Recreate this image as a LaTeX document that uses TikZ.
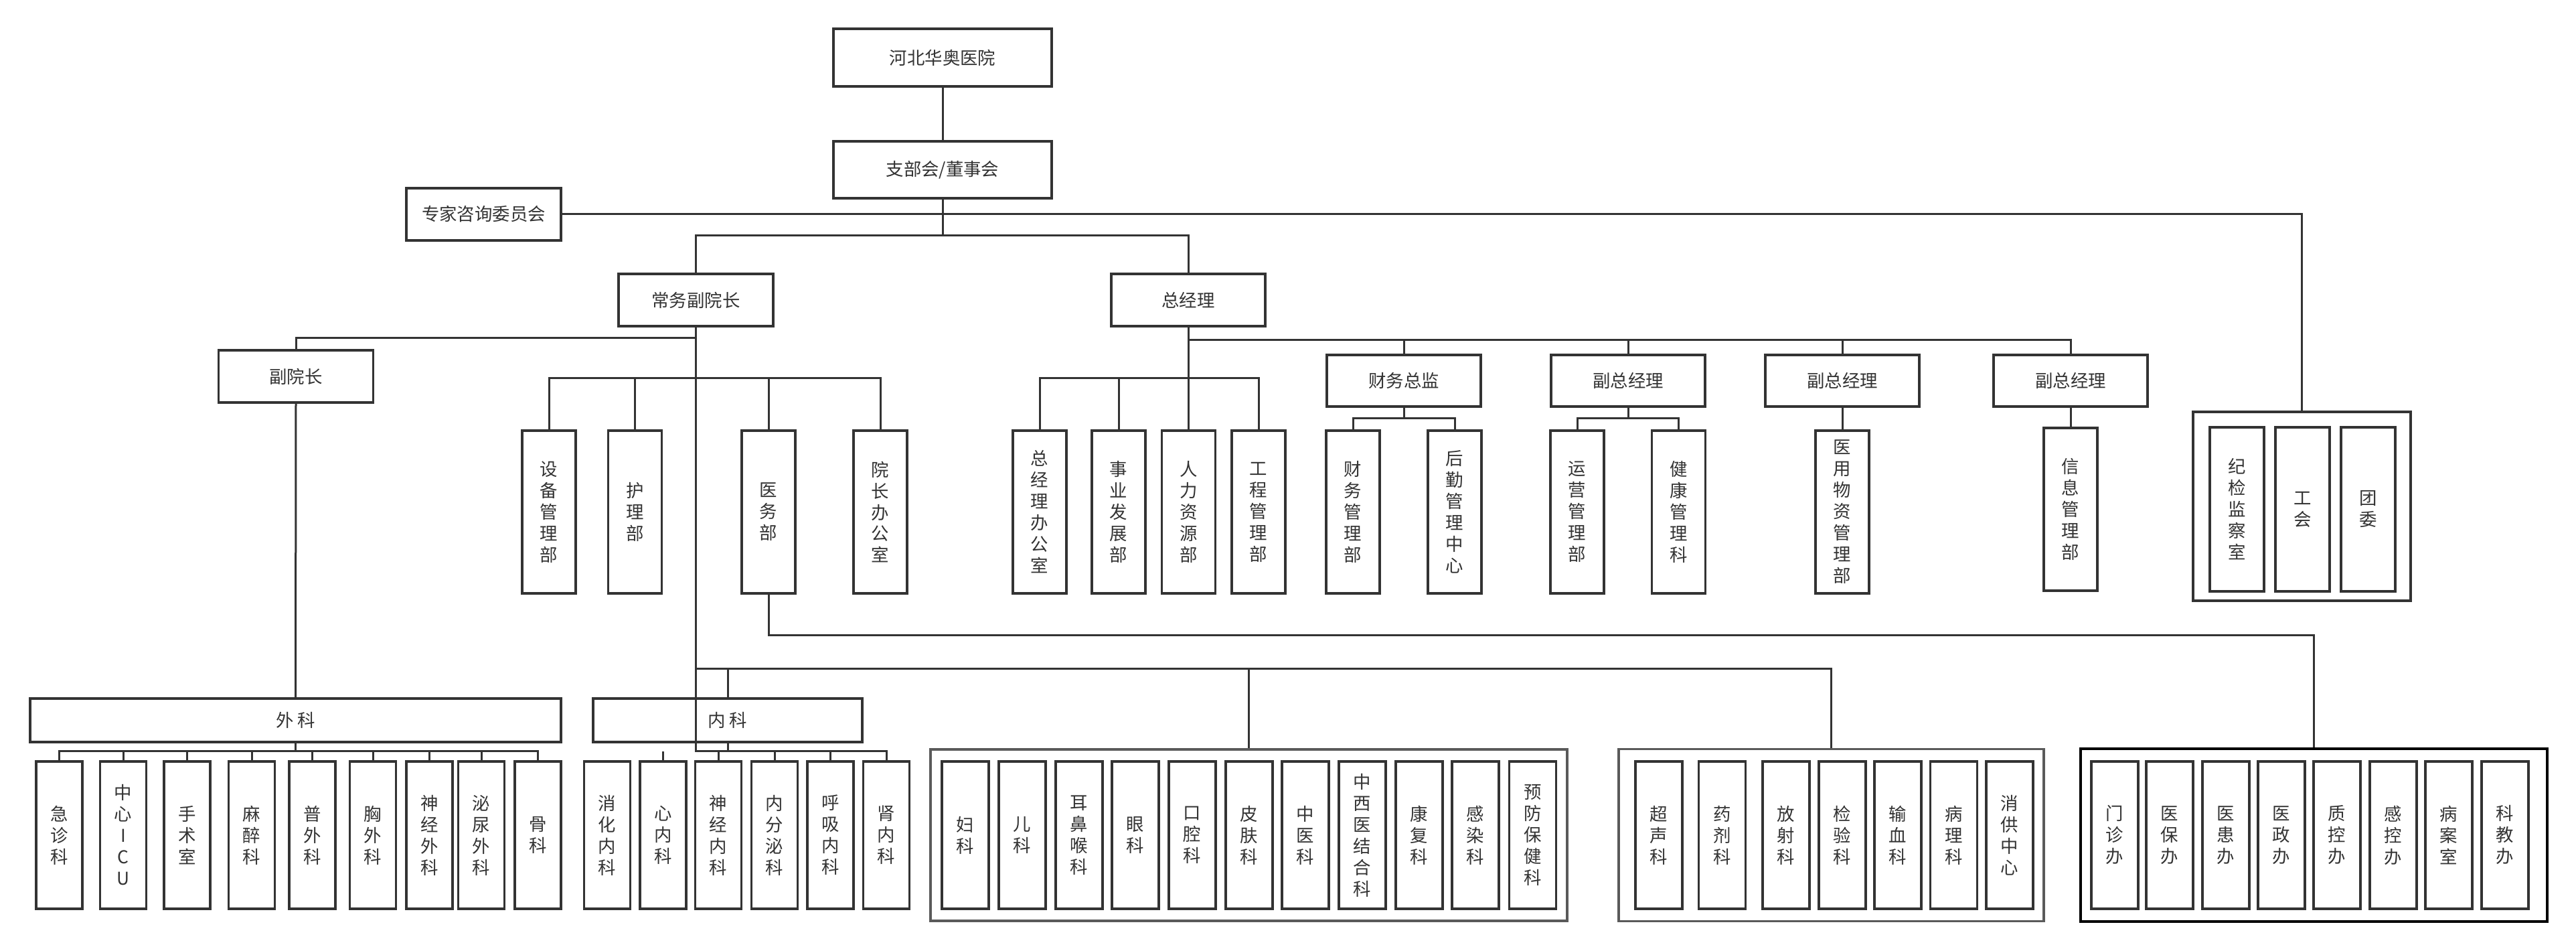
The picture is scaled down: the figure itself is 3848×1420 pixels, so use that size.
\documentclass[tikz,border=0pt]{standalone}
\usepackage{fontspec}
\newfontfamily\cjk{Noto Sans CJK SC}
\definecolor{lc}{HTML}{333333}
\definecolor{tc}{HTML}{333333}
\definecolor{gc}{HTML}{5A5A5A}
\def\vt#1{\vtB#1\vtEnd}
\def\vtB#1{#1\vtC}
\def\vtC#1{\ifx#1\vtEnd\else\\#1\expandafter\vtC\fi}
\def\vx#1{\expandafter\vt\expandafter{#1}}
\tikzset{
  sz/.style 2 args={minimum width=#1*0.25pt, minimum height=#2*0.25pt},
  bx/.style={draw=lc, line width=0.8pt, fill=white, inner sep=0pt, text=tc,
     align=center, font=\cjk\fontsize{6.6pt}{8pt}\selectfont},
  vb/.style={bx, sz={80}{243}},
  sb/.style={bx, sz={69}{220}},
  mb/.style={bx, sz={230}{77}},
  grp/.style={draw=gc, line width=0.9pt, fill=white, inner sep=0pt},
  cn/.style={draw=lc, line width=0.75pt},
}
\begin{document}
\begin{tikzpicture}[x=0.25pt,y=-0.25pt]
\useasboundingbox[fill=white] (0,0) rectangle (3848,1420);

% containers (behind)
\node[grp, sz={325}{282}, draw=lc] (J) at (3438.5,756) {};
\node[grp, sz={951}{256}] (K2) at (1865.5,1247) {};
\node[grp, sz={635}{257}] (K3) at (2735.5,1247) {};
\node[grp, sz={697}{258}, draw=black, line width=1pt] (K4) at (3456.5,1247) {};

% top
\node[bx, sz={326}{86}] (A) at (1408,86) {河北华奥医院};
\node[bx, sz={326}{85}] (B) at (1408,253.5) {支部会/董事会};
\node[bx, sz={231}{78}] (C) at (722.5,320) {专家咨询委员会};
\node[bx, sz={231}{78}] (D) at (1039.5,448) {常务副院长};
\node[bx, sz={230}{78}] (E) at (1775,448) {总经理};
\node[bx, sz={231}{78}] (F) at (442,562) {副院长};

% row 1 under 常务副院长
\node[vb] (sbg) at (820,764.5) {\vt{设备管理部}};
\node[vb] (hlb) at (948.5,764.5) {\vt{护理部}};
\node[vb] (ywb) at (1148,764.5) {\vt{医务部}};
\node[vb] (ybg) at (1315,764.5) {\vt{院长办公室}};

% row 1 under 总经理
\node[vb] (g1) at (1553,764.5) {\vt{总经理办公室}};
\node[vb] (g2) at (1671,764.5) {\vt{事业发展部}};
\node[vb] (g3) at (1775.5,764.5) {\vt{人力资源部}};
\node[vb] (g4) at (1880,764.5) {\vt{工程管理部}};

% managers
\node[mb] (M1) at (2097,568.5) {财务总监};
\node[mb] (M2) at (2432,568.5) {副总经理};
\node[mb] (M3) at (2752,568.5) {副总经理};
\node[mb] (M4) at (3093,568.5) {副总经理};

\node[vb] (cw) at (2021,764.5) {\vt{财务管理部}};
\node[vb] (hq) at (2173,764.5) {\vt{后勤管理中心}};
\node[vb] (yy) at (2356,764.5) {\vt{运营管理部}};
\node[vb] (jk) at (2507.5,764.5) {\vt{健康管理科}};
\node[vb] (wz) at (2752,764.5) {\vt{医用物资管理部}};
\node[vb] (xx) at (3093,760.5) {\vt{信息管理部}};

\node[bx, sz={81}{245}] (j1) at (3341.5,760.5) {\vt{纪检监察室}};
\node[bx, sz={81}{245}] (j2) at (3439.5,760.5) {\vt{工会}};
\node[bx, sz={81}{245}] (j3) at (3537.5,760.5) {\vt{团委}};

% 外科 / 内科
\node[bx, sz={793}{65}] (WK) at (441.5,1075.5) {外 科};
\node[bx, sz={402}{65}] (NK) at (1087,1075.5) {内 科};

\foreach \x/\nm [count=\i] in {88.5/急诊科,184/中心ICU,279.5/手术室,376/麻醉科,466.5/普外科,557/胸外科,641.5/神经外科,719/泌尿外科,803.5/骨科}
  \node[sb] (w\i) at (\x,1247) {\vx{\nm}};
\foreach \x/\nm [count=\i] in {907/消化内科,990.5/心内科,1073/神经内科,1157/内分泌科,1240.5/呼吸内科,1324/肾内科}
  \node[sb] (n\i) at (\x,1247) {\vx{\nm}};
\foreach \x/\nm [count=\i] in {1442/妇科,1527/儿科,1612/耳鼻喉科,1696/眼科,1781/口腔科,1866/皮肤科,1950/中医科,2035/中西医结合科,2120/康复科,2204/感染科,2289.5/预防保健科}
  \node[bx, sz={70}{220}] (p\i) at (\x,1247) {\vx{\nm}};
\foreach \x/\nm [count=\i] in {2478/超声科,2572.5/药剂科,2668/放射科,2752/检验科,2835/输血科,2918.5/病理科,3002/消供中心}
  \node[bx, sz={70}{220}] (q\i) at (\x,1247) {\vx{\nm}};
\foreach \x/\nm [count=\i] in {3159/门诊办,3241/医保办,3325/医患办,3408/医政办,3491/质控办,3575/感控办,3658/病案室,3742/科教办}
  \node[bx, sz={70}{220}] (r\i) at (\x,1247) {\vx{\nm}};

% coordinates
\coordinate (b1) at (1408,352);
\coordinate (d1) at (1039.5,505);
\coordinate (d2) at (1039.5,565);
\coordinate (n1) at (1039.5,999);
\coordinate (m1) at (1148,949);
\coordinate (e1) at (1775,565);
\coordinate (e2) at (1775,508);
\coordinate (f1) at (2097,625);
\coordinate (f2) at (2432,625);
\coordinate (wk1) at (441.5,1122);
\coordinate (nk1) at (1087,1122);

% connectors
\draw[cn] (A.south) -- (B.north);
\draw[cn] (B.south) -- (b1);
\draw[cn] (D.north) |- (b1) -| (E.north);
\draw[cn] (C.east) -| (J.north);

\draw[cn] (D.south) -- (n1);
\draw[cn] (d1) -| (F.north);
\draw[cn] (sbg.north) |- (ybg.north |- d2) -- (ybg.north);
\draw[cn] (hlb.north) -- (hlb.north |- d2);
\draw[cn] (ywb.north) -- (ywb.north |- d2);

\draw[cn] (F.south) -- (WK.north);
\draw[cn] (WK.south) -- (wk1);
\draw[cn] (w1.north) |- (w9.north |- wk1) -- (w9.north);
\foreach \i in {2,...,8} \draw[cn] (w\i.north) -- (w\i.north |- wk1);

\draw[cn] (n1) -- (K3.north |- n1) -- (K3.north);
\draw[cn] (NK.north) -- (NK.north |- n1);
\draw[cn] (K2.north) -- (K2.north |- n1);
\draw[cn] (NK.south) -- (nk1);
\draw[cn] (n1.north) |- (n6.north |- nk1) -- (n6.north);
\foreach \i in {2,...,5} \draw[cn] (n\i.north) -- (n\i.north |- nk1);

\draw[cn] (ywb.south) -- (m1) -| (K4.north);

\draw[cn] (E.south) -- (e1);
\draw[cn] (g1.north) |- (g4.north |- e1) -- (g4.north);
\draw[cn] (g2.north) -- (g2.north |- e1);
\draw[cn] (g3.north) -- (g3.north |- e1);
\draw[cn] (e2) -| (M4.north);
\foreach \m in {M1,M2,M3} \draw[cn] (\m.north) -- (\m.north |- e2);

\draw[cn] (M1.south) -- (f1);
\draw[cn] (cw.north) |- (hq.north |- f1) -- (hq.north);
\draw[cn] (M2.south) -- (f2);
\draw[cn] (yy.north) |- (jk.north |- f2) -- (jk.north);
\draw[cn] (M3.south) -- (wz.north);
\draw[cn] (M4.south) -- (xx.north);
\end{tikzpicture}
\end{document}
